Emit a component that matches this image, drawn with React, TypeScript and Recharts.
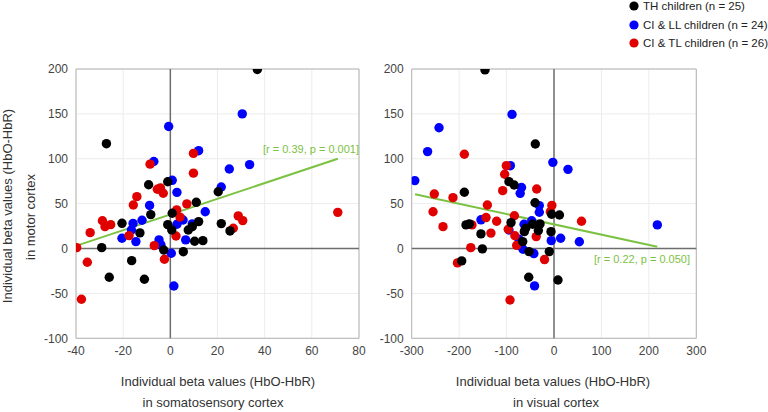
import React from 'react';
import { ScatterChart, Scatter, XAxis, YAxis, CartesianGrid, ReferenceLine, ReferenceArea } from 'recharts';

const FONT = '"Liberation Sans", Arial, Helvetica, sans-serif';

// ---------- Left panel: somatosensory (x) vs motor (y) ----------
const leftXTicks = [-40, -20, 0, 20, 40, 60, 80];
const rightXTicks = [-300, -200, -100, 0, 100, 200, 300];
const yTicks = [-100, -50, 0, 50, 100, 150, 200];

const thLeft = [
  { x: 36.9, y: 199.5 }, { x: -27.1, y: 116.8 }, { x: -9.2, y: 71 }, { x: -1.1, y: 74.4 },
  { x: 20.3, y: 63.3 }, { x: 11, y: 51.5 }, { x: -8.3, y: 37.8 }, { x: 0.8, y: 39.3 },
  { x: -20.5, y: 28.1 }, { x: -1.1, y: 26.6 }, { x: 21.6, y: 27.8 }, { x: 12, y: 30 },
  { x: 9.3, y: 24.4 }, { x: 7.6, y: 20.7 }, { x: 0.6, y: 20.7 }, { x: -12.9, y: 17.4 },
  { x: 25.3, y: 19.6 }, { x: 10.3, y: 8.1 }, { x: 13.8, y: 8.8 }, { x: -29.1, y: 1 },
  { x: -2.8, y: -1.6 }, { x: 5.5, y: -3.5 }, { x: -16.4, y: -13.5 }, { x: -25.9, y: -32 },
  { x: -11, y: -34.2 },
];
const llLeft = [
  { x: -0.7, y: 136 }, { x: 30.5, y: 150 }, { x: 12, y: 109 }, { x: -7, y: 97 },
  { x: 33.6, y: 93.5 }, { x: 25, y: 88.6 }, { x: 0.8, y: 76 }, { x: 21.6, y: 68.5 },
  { x: 2.8, y: 62.6 }, { x: -8.8, y: 48 }, { x: 14.8, y: 41 }, { x: -12, y: 31.5 },
  { x: 5.4, y: 31.8 }, { x: -15.8, y: 28 }, { x: 9.3, y: 27.4 }, { x: 2.8, y: 27 },
  { x: -16.5, y: 20.7 }, { x: -20.5, y: 11.4 }, { x: 6.5, y: 9.6 }, { x: -14.6, y: 7.7 },
  { x: -4.8, y: 9.6 }, { x: -4, y: 4 }, { x: 0.4, y: -5.3 }, { x: 1.5, y: -41.7 },
];
const tlLeft = [
  { x: 9.8, y: 106 }, { x: -8.6, y: 94 }, { x: 9.8, y: 84 }, { x: -5.5, y: 66 },
  { x: -4.2, y: 67.5 }, { x: -3, y: 61.6 }, { x: -14.2, y: 57.8 }, { x: -15.7, y: 48.5 },
  { x: 7, y: 49.7 }, { x: 2.7, y: 43 }, { x: 4.1, y: 35 }, { x: -28.8, y: 31 },
  { x: -27.7, y: 24.4 }, { x: -25.3, y: 26.6 }, { x: -34, y: 17.7 }, { x: -17.5, y: 14.4 },
  { x: -39.7, y: 1 }, { x: -35.2, y: -15.3 }, { x: -37.7, y: -56.5 }, { x: -6.8, y: 3.2 },
  { x: -2.5, y: -11.9 }, { x: 2.4, y: 14 }, { x: 28.8, y: 36.3 }, { x: 30.7, y: 31.1 },
  { x: 26.7, y: 22.6 }, { x: 71, y: 40.3 },
];
const trendLeft = [{ x: -40, y: 3 }, { x: 71, y: 100 }];

// ---------- Right panel: visual (x) vs motor (y) ----------
const thRight = [
  { x: -145.5, y: 199 }, { x: -39.4, y: 116.5 }, { x: -189, y: 62.7 }, { x: -95, y: 74.5 },
  { x: -84, y: 70.8 }, { x: -40, y: 51 }, { x: -5, y: 38.2 }, { x: 11.5, y: 37.4 },
  { x: -185.5, y: 26.3 }, { x: -178.5, y: 27.4 }, { x: -154, y: 16.3 }, { x: -151, y: -0.4 },
  { x: -194.6, y: -13.8 }, { x: -90.6, y: 28.9 }, { x: -62.6, y: 18.8 }, { x: -59.7, y: 22.6 },
  { x: -66, y: 7.7 }, { x: -52.7, y: -3.4 }, { x: -33, y: 20 }, { x: -29.5, y: 27.4 },
  { x: -6.3, y: 18.8 }, { x: -9.9, y: -3.4 }, { x: -53.3, y: -32 }, { x: 8.4, y: -35 },
  { x: -45, y: 27 },
];
const llRight = [
  { x: -293.5, y: 75.7 }, { x: -266.5, y: 108 }, { x: -242.4, y: 134.6 }, { x: -88.5, y: 149.4 },
  { x: -92, y: 92.3 }, { x: -2.4, y: 96 }, { x: 29.5, y: 88.2 }, { x: -68.5, y: 68 },
  { x: -71.3, y: 61.5 }, { x: -31, y: 47.8 }, { x: -31, y: 40.4 }, { x: -154, y: 32 },
  { x: -47, y: 31 }, { x: -63.2, y: 27 }, { x: -94.9, y: 20.7 }, { x: -5.8, y: 8.8 },
  { x: 14, y: 11.4 }, { x: 53.4, y: 7.5 }, { x: 217.8, y: 26.3 }, { x: -65.4, y: -0.8 },
  { x: -42.5, y: -5.6 }, { x: -41, y: -41.6 }, { x: -73.8, y: 10.3 }, { x: -69.6, y: 2.5 },
];
const tlRight = [
  { x: -189, y: 105 }, { x: -100.5, y: 92.3 }, { x: -104, y: 82.7 }, { x: -108.2, y: 64.5 },
  { x: -36.5, y: 66.3 }, { x: -252.3, y: 60.8 }, { x: -213, y: 56.7 }, { x: -255, y: 41 },
  { x: -140.5, y: 48.5 }, { x: -4.5, y: 48 }, { x: -7.8, y: 41 }, { x: -83.5, y: 36.5 },
  { x: -143.3, y: 34.5 }, { x: -120.9, y: 30.4 }, { x: 58, y: 30.4 }, { x: -234, y: 24.4 },
  { x: -173, y: 26.3 }, { x: -96.5, y: 21.5 }, { x: -133, y: 17.2 }, { x: -82.5, y: 14.2 },
  { x: -37.5, y: 13.3 }, { x: -175.5, y: 1 }, { x: -78.7, y: 3.5 }, { x: -203.5, y: -16 },
  { x: -20, y: -12.3 }, { x: -92.8, y: -57.3 },
];
const trendRight = [{ x: -293, y: 60.5 }, { x: 217.8, y: 2 }];

const legendItems = [
  { label: 'TH children (n = 25)', color: '#000000' },
  { label: 'CI & LL children (n = 24)', color: '#0000ff' },
  { label: 'CI & TL children (n = 26)', color: '#e00000' },
];

const GREEN = '#7cc242';
const R = 4.7;

const makeDot = (color: string) => (props: any) => {
  if (props.cx == null || props.cy == null) return <g />;
  return <circle cx={props.cx} cy={props.cy} r={R} fill={color} />;
};

const tickStyle = { fill: '#444', fontSize: 12, fontFamily: FONT };

function Panel(props: {
  width: number; height: number; margin: any; yWidth: number;
  xDomain: [number, number]; xTicks: number[];
  th: any[]; ll: any[]; tl: any[]; trend: any[];
}) {
  const { width, height, margin, yWidth, xDomain, xTicks, th, ll, tl, trend } = props;
  return (
    <ScatterChart width={width} height={height} margin={margin}>
      <CartesianGrid stroke="#ececec" strokeWidth={1} />
      <XAxis
        type="number" dataKey="x" domain={xDomain} ticks={xTicks} interval={0}
        axisLine={false} tickLine={false} tick={tickStyle} height={30} allowDataOverflow
      />
      <YAxis
        type="number" dataKey="y" domain={[-100, 200]} ticks={yTicks} interval={0}
        axisLine={false} tickLine={false} tick={tickStyle} width={yWidth} allowDataOverflow
      />
      <ReferenceArea x1={xDomain[0]} x2={xDomain[1]} y1={-100} y2={200} fill="none" stroke="#b4b4b4" strokeWidth={1} fillOpacity={0} />
      <ReferenceLine x={0} stroke="#6e6e6e" strokeWidth={1.5} />
      <ReferenceLine y={0} stroke="#6e6e6e" strokeWidth={1.5} />
      <Scatter data={ll} shape={makeDot('#0000ff')} isAnimationActive={false} />
      <Scatter data={tl} shape={makeDot('#e00000')} isAnimationActive={false} />
      <Scatter data={th} shape={makeDot('#000000')} isAnimationActive={false} />
      <ReferenceLine segment={trend as any} stroke={GREEN} strokeWidth={2} />
    </ScatterChart>
  );
}

const titleStyle: React.CSSProperties = {
  position: 'absolute', fontFamily: FONT, fontSize: 13, color: '#333',
  whiteSpace: 'nowrap', lineHeight: '16px',
};

function CenteredText({ x, y, text, rotate }: { x: number; y: number; text: string; rotate?: boolean }) {
  return (
    <div
      style={{
        ...titleStyle,
        left: x, top: y,
        transform: rotate ? 'translate(-50%, -50%) rotate(-90deg)' : 'translate(-50%, -50%)',
      }}
    >
      {text}
    </div>
  );
}

export default function App() {
  return (
    <div style={{ position: 'absolute', left: 0, top: 0, width: 768, height: 412, background: '#fff', overflow: 'hidden' }}>
      <div style={{ position: 'absolute', left: 0, top: 0 }}>
        <Panel
          width={384} height={412}
          margin={{ top: 69, right: 25, bottom: 43.7, left: 0 }}
          yWidth={76}
          xDomain={[-40, 80]} xTicks={leftXTicks}
          th={thLeft} ll={llLeft} tl={tlLeft} trend={trendLeft}
        />
      </div>
      <div style={{ position: 'absolute', left: 344, top: 0 }}>
        <Panel
          width={424} height={412}
          margin={{ top: 69, right: 71.7, bottom: 43.7, left: 0 }}
          yWidth={67.7}
          xDomain={[-300, 300]} xTicks={rightXTicks}
          th={thRight} ll={llRight} tl={tlRight} trend={trendRight}
        />
      </div>

      {/* axis titles */}
      <CenteredText x={8} y={206} text="Individual beta values (HbO-HbR)" rotate />
      <CenteredText x={31} y={217} text="in motor cortex" rotate />
      <CenteredText x={218} y={381.5} text="Individual beta values (HbO-HbR)" />
      <CenteredText x={213} y={402.5} text="in somatosensory cortex" />
      <CenteredText x={553} y={381.5} text="Individual beta values (HbO-HbR)" />
      <CenteredText x={556} y={402.5} text="in visual cortex" />

      {/* correlation labels */}
      <div style={{ position: 'absolute', right: 768 - 359, top: 149, transform: 'translateY(-50%)', fontFamily: FONT, fontSize: 11, color: GREEN, whiteSpace: 'nowrap' }}>
        [r = 0.39, p = 0.001]
      </div>
      <div style={{ position: 'absolute', left: 594, top: 259, transform: 'translateY(-50%)', fontFamily: FONT, fontSize: 11, color: GREEN, whiteSpace: 'nowrap' }}>
        [r = 0.22, p = 0.050]
      </div>

      {/* legend */}
      {legendItems.map((it, i) => (
        <div key={it.label} style={{ position: 'absolute', left: 629, top: 6 + i * 18.5, transform: 'translateY(-50%)', display: 'flex', alignItems: 'center', fontFamily: FONT, fontSize: 11.5, color: '#222', whiteSpace: 'nowrap' }}>
          <svg width={10} height={10} style={{ marginRight: 4 }}>
            <circle cx={5} cy={5} r={4.6} fill={it.color} />
          </svg>
          <span>{it.label}</span>
        </div>
      ))}
    </div>
  );
}
